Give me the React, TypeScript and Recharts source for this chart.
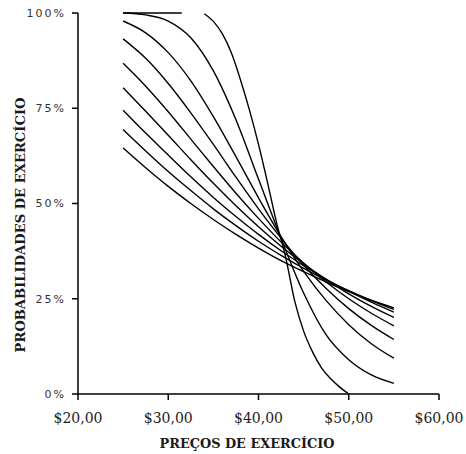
import { LineChart, Line, XAxis, YAxis, Label } from 'recharts';

// strike prices shared by the smooth curves
const strikes = [25, 27.5, 30, 32.5, 35, 37.5, 40, 42.5, 45, 47.5, 50, 52.5, 55];

// steepest curve, read on its own grid (gap at the top between $31.5 and $34)
const steepStrikes = [25, 31.5, 32.5, 34, 35, 36, 37, 38, 39, 40, 41, 42, 43, 44, 45, 46, 47, 48, 49, 50];
const steepValues = [100, 100, null, 99.8, 97.8, 94.5, 89.5, 82.5, 74.5, 65.5, 55.5, 45, 36, 24.5, 16.5, 11, 6.8, 4, 1.8, 0];

const curveB = [100, 99.5, 97.9, 93.5, 84.8, 72.0, 56.4, 40.8, 26.5, 15.5, 9.0, 5.0, 2.8];
const curveC = [97.9, 94.8, 89.6, 82.2, 72.8, 62.3, 51.5, 41.3, 32.2, 24.5, 18.2, 13.2, 9.4];
const curveD = [93.2, 88.1, 81.5, 73.8, 65.5, 56.9, 48.6, 40.9, 33.8, 27.7, 22.4, 18.0, 14.3];
const curveE = [86.8, 80.8, 74.1, 66.9, 59.7, 52.7, 46.1, 39.9, 34.4, 29.4, 25.0, 21.2, 17.9];
const curveF = [80.4, 74.2, 67.9, 61.5, 55.3, 49.4, 43.9, 38.8, 34.2, 30.1, 26.3, 23.0, 20.1];
const curveG = [74.5, 68.5, 62.7, 57.0, 51.6, 46.6, 41.9, 37.6, 33.7, 30.1, 27.0, 24.1, 21.5];
const curveH = [69.4, 63.8, 58.4, 53.4, 48.6, 44.2, 40.1, 36.4, 33.0, 29.9, 27.1, 24.5, 22.2];
const curveI = [64.6, 59.4, 54.5, 50.0, 45.8, 41.9, 38.3, 35.0, 32.1, 29.4, 26.9, 24.6, 22.6];

const xTicks = [20, 30, 40, 50, 60];
const yTicks = [0, 25, 50, 75, 100];

const toPoints = (xs: number[], ys: (number | null)[]) => xs.map((x, i) => ({ x, y: ys[i] }));

const series = [
  toPoints(steepStrikes, steepValues),
  ...[curveB, curveC, curveD, curveE, curveF, curveG, curveH, curveI].map((c) => toPoints(strikes, c)),
];

const TITLE_FONT = { fontFamily: 'DejaVu Serif', fontSize: 12, fontWeight: 'bold' as const, fill: '#1a1a1a' };

const XTitle = () => (
  <text x={247} y={448} textAnchor="middle" textLength={175} lengthAdjust="spacingAndGlyphs" {...TITLE_FONT}>
    PREÇOS DE EXERCÍCIO
  </text>
);

const YTitle = () => (
  <text transform="translate(25,225) rotate(-90)" textAnchor="middle" textLength={255} lengthAdjust="spacingAndGlyphs" {...TITLE_FONT}>
    PROBABILIDADES DE EXERCÍCIO
  </text>
);

export default function App() {
  return (
    <div style={{ position: 'absolute', left: 0, top: 0, width: 466, height: 454, background: '#fff' }}>
      <LineChart width={466} height={454} margin={{ top: 13, right: 27, bottom: 0, left: 0 }}>
        <XAxis
          dataKey="x"
          type="number"
          domain={[20, 60]}
          ticks={xTicks}
          allowDuplicatedCategory={false}
          tickFormatter={(v) => `$${v},00`}
          height={60}
          stroke="#000"
          strokeWidth={1.5}
          tickSize={6}
          tickMargin={13}
          tick={{ fill: '#222', fontSize: 14, fontFamily: 'DejaVu Serif' }}
        >
          <Label content={XTitle} />
        </XAxis>
        <YAxis
          type="number"
          domain={[0, 100]}
          ticks={yTicks}
          tickFormatter={(v) => `${v}%`}
          width={78}
          stroke="#000"
          strokeWidth={1.5}
          tickSize={6}
          tickMargin={6}
          tick={{ fill: '#333', fontSize: 11, fontFamily: 'DejaVu Sans', letterSpacing: 2 }}
        >
          <Label content={YTitle} />
        </YAxis>
        {series.map((pts, i) => (
          <Line
            key={i}
            data={pts}
            dataKey="y"
            type="monotone"
            stroke="#000"
            strokeWidth={1.4}
            dot={false}
            connectNulls={false}
            isAnimationActive={false}
          />
        ))}
      </LineChart>
    </div>
  );
}
